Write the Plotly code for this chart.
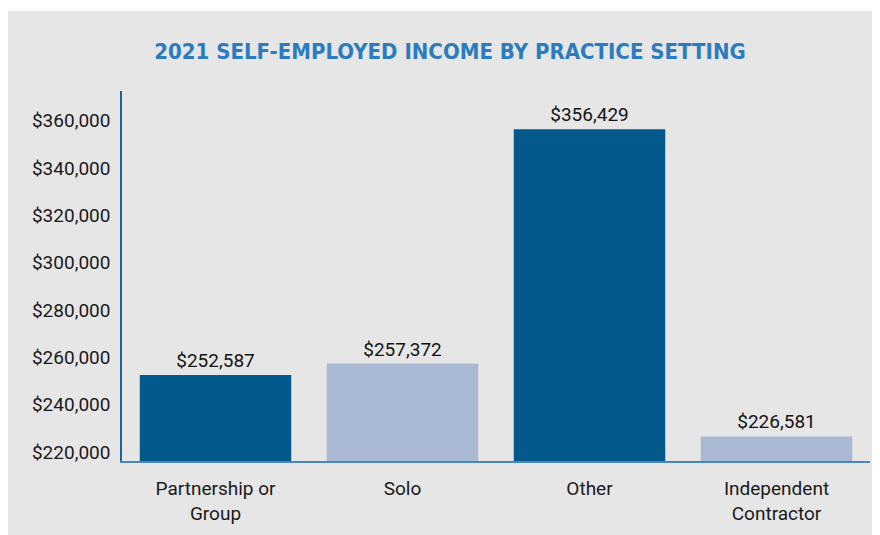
import plotly.graph_objects as go

# data
settings = ['Partnership or<br>Group', 'Solo', 'Other', 'Independent<br>Contractor']
income = [252587, 257372, 356429, 226581]
bar_colors = ['#03588c', '#a9b9d4', '#03588c', '#a9b9d4']
tick_vals = [220000, 240000, 260000, 280000, 300000, 320000, 340000, 360000]

# the page body adds an 8px margin, so the figure is 8px smaller than the window
W, H = 872, 527
ml, mr, mt, mb = 114, 10, 83, 71
pw, ph = W - ml - mr, H - mt - mb

fig = go.Figure()
fig.add_trace(go.Bar(
    x=settings, y=income,
    marker=dict(color=bar_colors, line=dict(width=0)),
    texttemplate='$%{y:,}', textposition='outside', cliponaxis=False,
    textfont=dict(family='Roboto', size=19, color='#141414'),
    hoverinfo='skip'))

fig.update_layout(
    width=W, height=H,
    margin=dict(l=ml, r=mr, t=mt, b=mb),
    paper_bgcolor='#e6e6e6', plot_bgcolor='#e6e6e6',
    bargap=0.19, showlegend=False,
    title=dict(text='2021 SELF-EMPLOYED INCOME BY PRACTICE SETTING',
               x=442 / W, xref='container', xanchor='center',
               y=1 - 43 / H, yref='container', yanchor='middle',
               font=dict(family='DejaVu Sans Condensed', size=22, color='#2a7bc0', weight='bold')),
    font=dict(family='Roboto', size=19, color='#1a1a1a'),
    shapes=[dict(type='rect', xref='paper', yref='paper', layer='below',
                 x0=-ml / pw - 0.01, x1=1.02,
                 y0=(mt + ph - 2) / ph, y1=(mt + ph + 5) / ph,
                 fillcolor='white', line=dict(width=0))],
)
fig.update_yaxes(range=[216200, 372600], tickvals=tick_vals, tickformat='$,',
                 showgrid=False, zeroline=False, showline=True,
                 linecolor='#1f5f9a', linewidth=1.5, ticks='', ticklabelstandoff=6,
                 tickfont=dict(family='Roboto', size=19, color='#1a1a1a'))
fig.update_xaxes(showgrid=False, showline=True, linecolor='#4a86b8', linewidth=2,
                 ticks='', ticklabelstandoff=9,
                 tickfont=dict(family='Roboto', size=19, color='#1a1a1a'))

fig.write_html('out.html')
